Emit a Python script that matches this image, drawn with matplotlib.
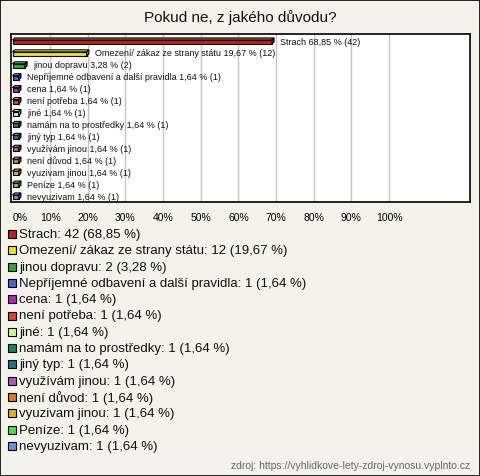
import matplotlib.pyplot as plt
import matplotlib.colors as mcolors
from matplotlib.patches import Polygon, Rectangle

plt.rcParams['font.family'] = ['Liberation Sans', 'DejaVu Sans']

# data (percentages are relative to the number of respondents, not to the sum of answers)
categories = ['Strach', 'Omezení/ zákaz ze strany státu', 'jinou dopravu',
              'Nepříjemné odbavení a další pravidla', 'cena', 'není potřeba',
              'jiné', 'namám na to prostředky', 'jiný typ', 'využívám jinou',
              'není důvod', 'vyuzivam jinou', 'Peníze', 'nevyuzivam']
counts = [42, 12, 2, 1, 1, 1, 1, 1, 1, 1, 1, 1, 1, 1]
respondents = 61
colors = ['#c81e0e', '#f0e010', '#20b020', '#4466dd', '#c020c0', '#e04418',
          '#c8ff88', '#108858', '#187888', '#b058b8', '#e07818', '#e0b010',
          '#48e040', '#6890e0']
ticks = [0, 10, 20, 30, 40, 50, 60, 70, 80, 90, 100]
pcts = [c / respondents * 100 for c in counts]


def fmt(p):
    return f'{p:.2f}'.replace('.', ',')


W, H = 480, 477
BG = '#f4f3eb'
fig = plt.figure(figsize=(W / 100, H / 100), dpi=100, facecolor=BG)

# outer frame
fig.patches.append(Rectangle((0.001, 0.001), 0.998, 0.997, transform=fig.transFigure,
                             fill=False, edgecolor='black', linewidth=1.2))

fig.text(240 / W, 1 - 18 / H, 'Pokud ne, z jakého důvodu?', ha='center', va='center',
         fontsize=11, color='#111111')

ax = fig.add_axes([11 / W, 1 - 203 / H, 459 / W, 168 / H])
ax.set_facecolor('white')
ax.set_xlim(-0.4, 121.5)
ax.set_ylim(13.5, -0.59)
for t in ticks[1:]:
    ax.axvline(t, color='#c4c4c4', linewidth=1, zorder=0)
for s in ax.spines.values():
    s.set_linewidth(1.2)
ax.set_xticks(ticks)
ax.set_xticklabels([f'{t}%' for t in ticks], fontsize=7.5)
ax.get_xticklabels()[0].set_horizontalalignment('left')
ax.tick_params(axis='x', length=0, pad=7)
ax.set_yticks([])

h = 0.34
dx, dy = 0.6, 0.17
for i, (c, p, col) in enumerate(zip(counts, pcts, colors)):
    y0 = i - h / 2 + 0.08
    y1 = y0 + h
    front = Polygon([(0, y0), (p, y0), (p, y1), (0, y1)], closed=True,
                    facecolor=col, edgecolor='black', linewidth=0.8, zorder=3)
    rgb = mcolors.to_rgb(col)
    light = tuple(min(1, v * 0.6 + 0.4) for v in rgb)
    dark = tuple(v * 0.7 for v in rgb)
    top = Polygon([(0, y0), (p, y0), (p + dx, y0 - dy), (dx, y0 - dy)], closed=True,
                  facecolor=light, edgecolor='black', linewidth=0.8, zorder=3)
    side = Polygon([(p, y0), (p + dx, y0 - dy), (p + dx, y1 - dy), (p, y1)], closed=True,
                   facecolor=dark, edgecolor='black', linewidth=0.8, zorder=3)
    ax.add_patch(front)
    ax.add_patch(top)
    ax.add_patch(side)
    ax.text(p + dx + 1.6, i, f'{categories[i]} {fmt(p)} % ({c})', va='center',
            ha='left', fontsize=6.5, color='#111111', zorder=4)

# legend
for i, (c, p, col) in enumerate(zip(counts, pcts, colors)):
    yc = 1 - (235 + i * 16.3) / H
    fig.patches.append(Rectangle((8 / W, yc - 4 / H), 8 / W, 8 / H, transform=fig.transFigure,
                                 facecolor=col, edgecolor='black', linewidth=0.8))
    fig.text(19 / W, yc, f'{categories[i]}: {c} ({fmt(p)} %)', va='center', ha='left',
             fontsize=9.5, color='#111111')

fig.text(470 / W, 1 - 466 / H, 'zdroj: https://vyhlidkove-lety-zdroj-vynosu.vyplnto.cz',
         ha='right', va='center', fontsize=7.5, color='#666666')

fig.savefig('out.png', dpi=100, facecolor=BG)
